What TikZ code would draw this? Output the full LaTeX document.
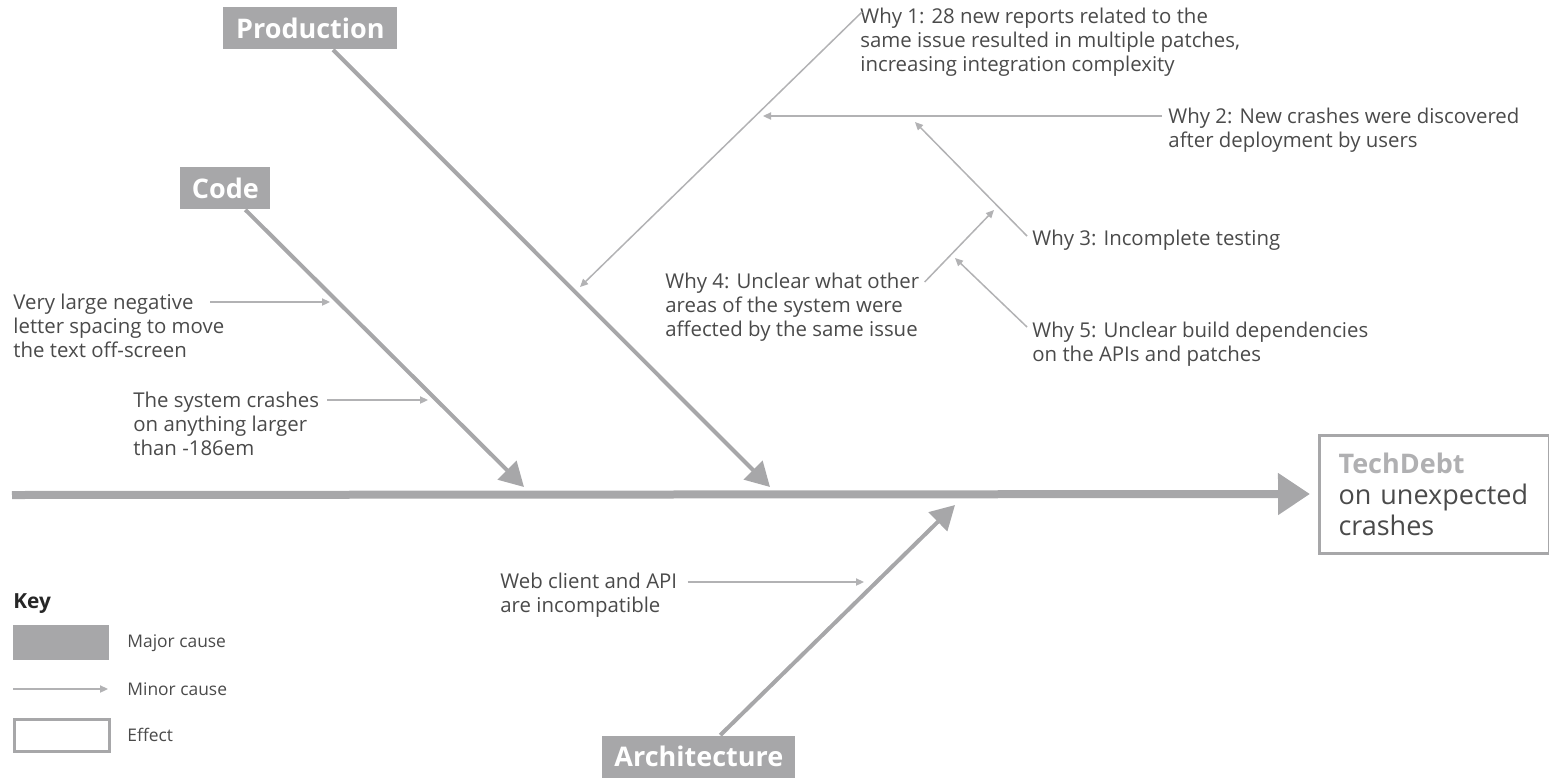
\documentclass[tikz,border=0pt]{standalone}
\usepackage{fontspec}
\setmainfont{Open Sans}
\usetikzlibrary{arrows.meta,positioning,calc}
\definecolor{bonegray}{HTML}{A7A7A9}
\definecolor{linegray}{HTML}{B2B2B4}
\definecolor{textgray}{HTML}{4A4A4A}
\definecolor{titlegray}{HTML}{B0B0B2}

\begin{document}
\begin{tikzpicture}[
    x=0.5pt, y=-0.5pt,
    category/.style={
        rectangle, fill=bonegray, text=white,
        font=\fontsize{13.5}{16}\selectfont\bfseries,
        minimum height=21pt, inner xsep=0pt, inner ysep=0pt
    },
    note/.style={
        align=left, inner sep=0pt, text=textgray, anchor=north west,
        font=\fontsize{10.2}{11.8}\selectfont
    },
    keytext/.style={
        inner sep=0pt, text=textgray, anchor=west,
        font=\fontsize{8.7}{10}\selectfont
    },
    effectbox/.style={
        rectangle, draw=bonegray, line width=1.5pt,
        text width=96pt, inner xsep=9.5pt, minimum height=59pt,
        align=left, text=textgray, font=\fontsize{13.5}{15.5}\selectfont
    },
    bone/.style={draw=bonegray, line width=2pt, -{Triangle[length=12pt,width=13pt]}},
    spine/.style={draw=bonegray, line width=4pt, -{Triangle[length=16pt,width=20pt]}},
    minor/.style={draw=linegray, line width=0.75pt, -{Triangle[length=4pt,width=3.6pt]}}
]
\useasboundingbox (0,0) rectangle (1549,778);

\node[category, anchor=north west, minimum width=87pt]   (production)   at (223,7)   {Production};
\node[category, anchor=north west, minimum width=45pt]   (code)         at (180,167) {Code};
\node[category, anchor=south west, minimum width=96.5pt] (architecture) at (602,778) {Architecture};

\node[effectbox, anchor=west] (effect) at (1318,494)
    {{\color{titlegray}\bfseries TechDebt}\\on unexpected\\crashes};

\coordinate (spinetail) at (12,495);
\coordinate (prodtip)   at (770,487);
\coordinate (codetip)   at (524,487);
\coordinate (archtip)   at (955,505);

\draw[spine] (spinetail) -- ([xshift=-4pt]effect.west);
\draw[bone] ($(production.south west)!0.63!(production.south east)$) -- (prodtip);
\draw[bone] ($(code.south west)!0.72!(code.south east)$) -- (codetip);
\draw[bone] ($(architecture.north west)!0.61!(architecture.north east)$) -- (archtip);

\node[note] (why1) at (860,8)
    {Why 1: 28 new reports related to the\\same issue resulted in multiple patches,\\increasing integration complexity};
\node[note] (why2) at (1168,108)
    {Why 2: New crashes were discovered\\after deployment by users};
\node[note] (why3) at (1032,230)
    {Why 3: Incomplete testing};
\node[note] (why4) at (665,273)
    {Why 4: Unclear what other\\areas of the system were\\affected by the same issue};
\node[note] (why5) at (1032,322)
    {Why 5: Unclear build dependencies\\on the APIs and patches};
\node[note] (spacing) at (13,294)
    {Very large negative\\letter spacing to move\\the text off-screen};
\node[note] (crashes) at (133,392)
    {The system crashes\\on anything larger\\than -186em};
\node[note] (webapi) at (500,573)
    {Web client and API\\are incompatible};

\coordinate (why1tip) at (580,287);
\coordinate (why2tip) at (763,116);
\coordinate (why3tip) at (915,122);
\coordinate (why4tip) at (994,210);
\coordinate (why5tip) at (955,258);
\coordinate (spacingtip) at (330,302);
\coordinate (crashestip) at (428,400);
\coordinate (webapitip)  at (864,582);

\draw[minor] ([shift={(2,4)}]why1.north west)   -- (why1tip);
\draw[minor] ([shift={(-6,8)}]why2.north west)  -- (why2tip);
\draw[minor] ([shift={(-5,6)}]why3.north west)  -- (why3tip);
\draw[minor] ([shift={(5,9)}]why4.north east)   -- (why4tip);
\draw[minor] ([shift={(-5,5)}]why5.north west)  -- (why5tip);
\draw[minor] ([shift={(197,8)}]spacing.north west) -- (spacingtip);
\draw[minor] ([shift={(8,8)}]crashes.north east)  -- (crashestip);
\draw[minor] ([shift={(10,9)}]webapi.north east)  -- (webapitip);

\node[anchor=base west, inner sep=0pt, text=black!85,
      font=\fontsize{10.4}{12}\selectfont\bfseries] (key) at (13,608) {Key};
\node[rectangle, fill=bonegray, inner sep=0pt, minimum width=48pt, minimum height=17.5pt,
      anchor=north west] (keymajor) at (13,625) {};
\node[rectangle, draw=bonegray, line width=1.5pt, inner sep=0pt, minimum width=47.5pt,
      minimum height=16pt, anchor=north west] (keyeffect) at (13,718) {};
\node[keytext] (keymajortxt)  at (127,643) {Major cause};
\node[keytext] (keyminortxt)  at (127,689) {Minor cause};
\node[keytext] (keyeffecttxt) at (127,735) {Effect};
\coordinate (keyminortail) at (13,689);
\draw[minor] (keyminortail) -- ([xshift=-9.5pt]keyminortxt.west);
\end{tikzpicture}
\end{document}
